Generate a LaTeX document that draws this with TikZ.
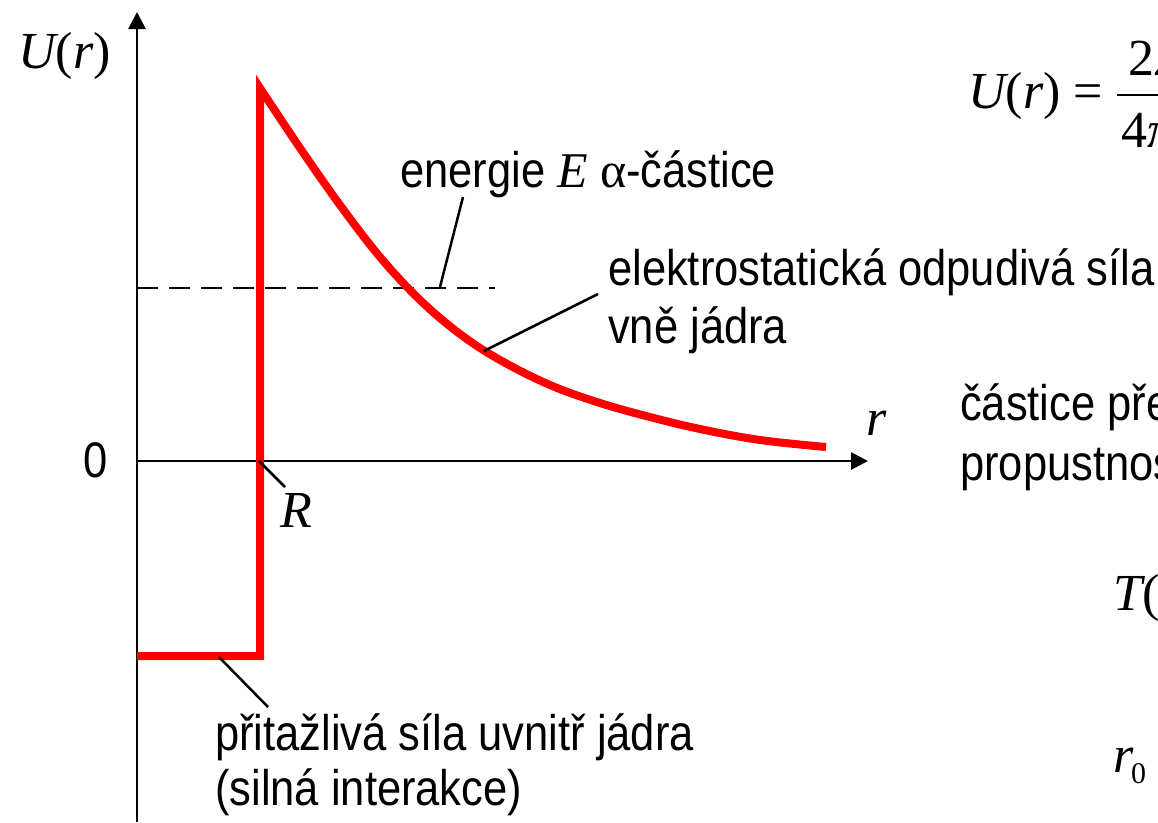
\documentclass[tikz,border=0pt]{standalone}
\usepackage{fontspec}
\setmainfont{Liberation Sans}[FakeStretch=0.87]
\newfontfamily\tms{Liberation Serif}
\usetikzlibrary{arrows.meta}
\begin{document}
\begin{tikzpicture}[x=1pt,y=-1pt,
  txt/.style={font=\fontsize{50}{58}\selectfont, inner sep=0pt, anchor=base west},
  mth/.style={font=\tms\itshape\fontsize{52}{60}\selectfont, inner sep=0pt, anchor=base west},
  axisline/.style={line width=2.8pt, -{Triangle[length=17pt,width=17pt]}},
  pot/.style={red, line width=8pt, line join=miter},
  lead/.style={line width=2.5pt},
  dashline/.style={line width=2pt, dash pattern=on 21pt off 11pt}]
\useasboundingbox (0,0) rectangle (1158,822);
\clip (0,0) rectangle (1158,822);
% axes
\coordinate (ybot) at (137,822);
\coordinate (ytop) at (137,12);
\coordinate (O) at (137,461);
\coordinate (xend) at (868,461);
\draw[axisline] (ybot) -- (ytop);
\draw[axisline] (O) -- (xend);
% energy level
\coordinate (e1) at (137,288);
\coordinate (e2) at (495,288);
\draw[dashline] (e1) -- (e2);
% potential
\draw[pot] (137,656) -- (260,656) -- (260,88) -- plot[smooth, tension=0.6] coordinates
  {(260,88) (300,148) (340,205) (380,257) (420,300) (460,334) (500,360) (550,385) (600,403) (650,417) (700,429) (760,440) (826,447)};
% leaders
\coordinate (a1) at (463,197); \coordinate (a2) at (440,287);
\coordinate (b1) at (598,294); \coordinate (b2) at (484,351);
\coordinate (c1) at (259,461); \coordinate (c2) at (285,487);
\coordinate (d1) at (219,657); \coordinate (d2) at (268,707);
\draw[lead] (a1) -- (a2);
\draw[lead] (b1) -- (b2);
\draw[lead] (c1) -- (c2);
\draw[lead] (d1) -- (d2);
% labels
\node[mth] (Ur) at (18,68) {U{\upshape(}r{\upshape)}};
\node[mth] (rl) at (866,435) {r};
\node[mth] (R) at (280,527) {R};
\node[txt] (zero) at (83,477) {0};
\node[txt] (en) at (400,187) {energie {\tms\itshape\fontsize{50}{60}\selectfont E} {\tms\fontsize{50}{60}\selectfont α}-částice};
\node[txt] (el) at (608,285) {elektrostatická odpudivá síla};
\node[txt] (vn) at (608,343) {vně jádra};
\node[txt] (pr) at (215,750) {přitažlivá síla uvnitř jádra};
\node[txt] (si) at (215,805) {(silná interakce)};
\node[txt] (ca) at (960,420) {částice pře};
\node[txt] (pp) at (960,480) {propustnost};
% formula (cut by the right edge)
\node[mth] (F) at (968,108) {U{\upshape(}r{\upshape) =}};
\coordinate (f1) at (1117,95); \coordinate (f2) at (1200,95);
\draw[line width=2.2pt] (f1) -- (f2);
\node[mth] (num) at (1128,75) {{\upshape 2}Ze};
\node[mth] (den) at (1121,147) {{\upshape 4}πε};
\node[mth] (T) at (1113,610) {T{\upshape(}};
\node[mth] (r0) at (1113,772) {r};
\node[inner sep=0pt, anchor=base west, font=\tms\fontsize{30}{36}\selectfont] (r0s) at (1131,783) {0};
\end{tikzpicture}
\end{document}
